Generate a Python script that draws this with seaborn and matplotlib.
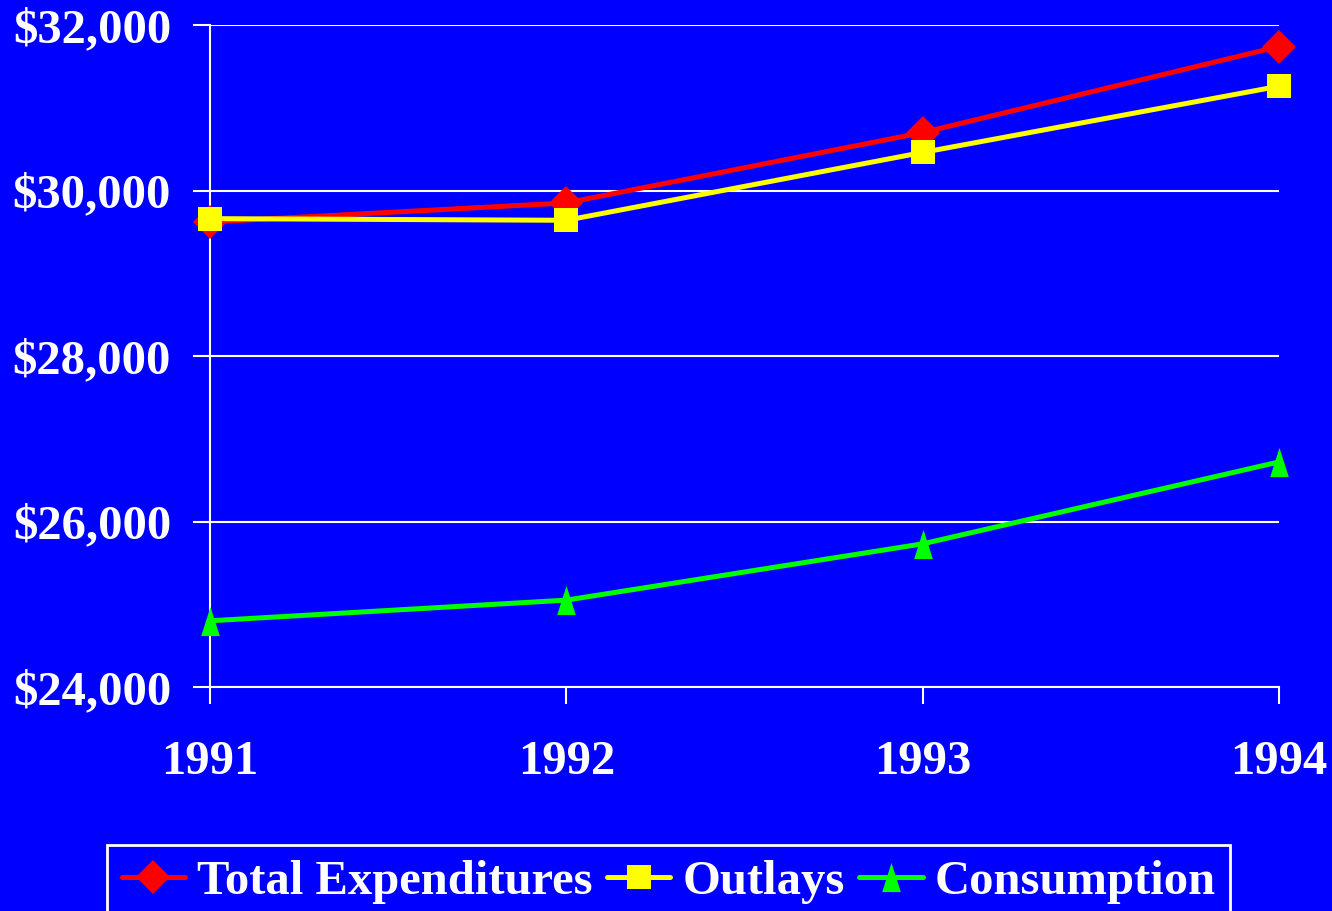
import matplotlib
matplotlib.use("Agg")
import matplotlib.pyplot as plt
import matplotlib.colors as mcolors
import seaborn as sns
import pandas as pd
from matplotlib.ticker import FuncFormatter

# data
years = [1991, 1992, 1993, 1994]
total_exp = [29620, 29850, 30700, 31740]
outlays = [29660, 29640, 30460, 31260]
consumption = [24800, 25050, 25730, 26720]
series_names = ["Total Expenditures", "Outlays", "Consumption"]

df = pd.DataFrame({
    "Year": years * 3,
    "Value": total_exp + outlays + consumption,
    "Series": [series_names[0]] * 4 + [series_names[1]] * 4 + [series_names[2]] * 4,
})

bg = "#0000FF"
green = "#00FF00"
sns.set_theme(style="white")
plt.rcParams["font.family"] = ["Liberation Serif", "DejaVu Serif"]
plt.rcParams["font.weight"] = "bold"

fig = plt.figure(figsize=(13.32, 9.11), dpi=100, facecolor=bg)
ax = fig.add_axes([210 / 1332, 1 - 687 / 911, (1279 - 210) / 1332, (687 - 25) / 911])
ax.set_facecolor(bg)

tall_tri = [(-0.32, -0.5), (0.32, -0.5), (0.0, 0.5)]
ax = sns.lineplot(
    data=df, x="Year", y="Value", hue="Series", style="Series",
    palette=["#FF0000", "#FFFF00", green],
    markers={"Total Expenditures": "D", "Outlays": "s", "Consumption": tall_tri},
    dashes=False, linewidth=3.6, markersize=17, markeredgewidth=0,
    ax=ax, clip_on=False, zorder=3,
)

# bigger triangles, like the original
for ln in ax.lines:
    if mcolors.to_hex(ln.get_color()).lower() == green.lower():
        ln.set_markersize(21)

ax.set_xlim(1991, 1994)
ax.set_ylim(24000, 32000)
ax.set_xticks(years)
ax.set_yticks([24000, 26000, 28000, 30000, 32000])
ax.yaxis.set_major_formatter(FuncFormatter(lambda v, p: f"${v:,.0f}"))
ax.grid(axis="y", color="white", linewidth=1.5)
ax.set_axisbelow(True)

for s in ["top", "right"]:
    ax.spines[s].set_visible(False)
for s in ["left", "bottom"]:
    ax.spines[s].set_color("white")
    ax.spines[s].set_linewidth(1.5)

ax.tick_params(axis="both", colors="white", labelcolor="white", labelsize=35,
               length=12, width=1.5, direction="out", bottom=True, left=True)
ax.tick_params(axis="y", pad=16)
ax.tick_params(axis="x", pad=26)
ax.set_xlabel("")
ax.set_ylabel("")

handles, labels = ax.get_legend_handles_labels()
leg = ax.legend(
    handles, labels, ncol=3, loc="upper left",
    bbox_to_anchor=(107 / 1332, 1 - 845 / 911), bbox_transform=fig.transFigure,
    frameon=True, facecolor=bg, edgecolor="white", framealpha=1,
    fontsize=35, handlelength=1.3, handletextpad=0.25, columnspacing=0.3,
    borderpad=0.3, borderaxespad=0, fancybox=False,
)
leg.get_frame().set_linewidth(2)
for t in leg.get_texts():
    t.set_color("white")
    t.set_fontweight("bold")
for h in leg.legend_handles:
    h.set_markersize(17)
    if mcolors.to_hex(h.get_color()).lower() == green.lower():
        h.set_markersize(21)

fig.savefig("out.png", dpi=100, facecolor=bg)
